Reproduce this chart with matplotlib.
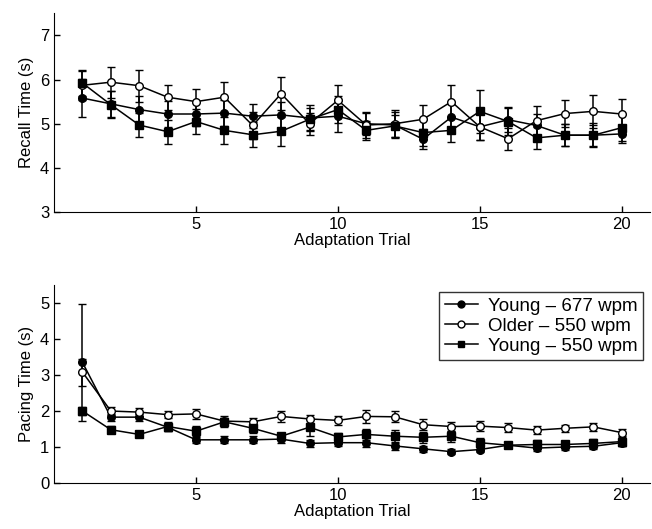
import numpy as np
import matplotlib.pyplot as plt
from matplotlib.lines import Line2D

plt.rcParams['font.family'] = ['Liberation Sans', 'DejaVu Sans']

trials = np.arange(1, 21)
labels = ['Young \u2013 677 wpm', 'Older \u2013 550 wpm', 'Young \u2013 550 wpm']

# recall time (s)
recall_y677 = [5.58, 5.45, 5.32, 5.22, 5.22, 5.24, 5.17, 5.20, 5.13, 5.17,
               5.00, 4.97, 4.65, 5.15, 4.93, 5.09, 4.96, 4.74, 4.74, 4.77]
recall_y677_err = [0.43, 0.30, 0.30, 0.30, 0.28, 0.30, 0.27, 0.30, 0.30, 0.35,
                   0.25, 0.30, 0.22, 0.30, 0.30, 0.28, 0.27, 0.25, 0.24, 0.20]
recall_old = [5.87, 5.94, 5.86, 5.60, 5.50, 5.60, 4.96, 5.68, 5.00, 5.53,
              4.97, 5.00, 5.10, 5.50, 4.93, 4.66, 5.07, 5.23, 5.28, 5.22]
recall_old_err = [0.33, 0.35, 0.36, 0.28, 0.29, 0.34, 0.30, 0.37, 0.25, 0.35,
                  0.30, 0.30, 0.33, 0.37, 0.30, 0.25, 0.32, 0.31, 0.38, 0.34]
recall_y550 = [5.92, 5.43, 4.97, 4.82, 5.05, 4.85, 4.75, 4.83, 5.10, 5.32,
               4.85, 4.95, 4.80, 4.85, 5.28, 5.05, 4.68, 4.74, 4.74, 4.91]
recall_y550_err = [0.30, 0.30, 0.28, 0.27, 0.28, 0.31, 0.28, 0.33, 0.25, 0.30,
                   0.22, 0.25, 0.30, 0.27, 0.49, 0.30, 0.25, 0.25, 0.27, 0.30]

# pacing time (s)
pacing_y677 = [3.35, 1.83, 1.83, 1.55, 1.20, 1.20, 1.20, 1.22, 1.10, 1.12,
               1.12, 1.03, 0.95, 0.87, 0.93, 1.05, 0.97, 1.00, 1.02, 1.12]
pacing_y677_err = [1.62, 0.10, 0.10, 0.10, 0.10, 0.10, 0.10, 0.10, 0.10, 0.10,
                   0.12, 0.10, 0.08, 0.07, 0.08, 0.08, 0.08, 0.08, 0.08, 0.08]
pacing_old = [3.08, 2.00, 1.97, 1.90, 1.92, 1.72, 1.70, 1.85, 1.78, 1.74,
              1.85, 1.84, 1.62, 1.57, 1.58, 1.54, 1.47, 1.52, 1.56, 1.40]
pacing_old_err = [0.38, 0.10, 0.12, 0.10, 0.13, 0.10, 0.10, 0.15, 0.12, 0.12,
                  0.18, 0.15, 0.15, 0.13, 0.13, 0.12, 0.12, 0.10, 0.12, 0.10]
pacing_y550 = [2.00, 1.48, 1.35, 1.57, 1.44, 1.70, 1.52, 1.30, 1.55, 1.28,
               1.35, 1.30, 1.27, 1.30, 1.12, 1.05, 1.07, 1.07, 1.10, 1.15]
pacing_y550_err = [0.12, 0.10, 0.08, 0.12, 0.15, 0.15, 0.12, 0.10, 0.25, 0.12,
                   0.15, 0.18, 0.15, 0.15, 0.12, 0.08, 0.12, 0.10, 0.12, 0.12]

fig = plt.figure(figsize=(6.52, 5.29), dpi=100)
ax1 = fig.add_axes([0.083, 0.599, 0.914, 0.376])
ax2 = fig.add_axes([0.083, 0.087, 0.914, 0.374])

styles = [dict(marker='o', mfc='black'),
          dict(marker='o', mfc='white'),
          dict(marker='s', mfc='black')]


def draw(ax, series, errs):
    for vals, err, st in zip(series, errs, styles):
        ax.errorbar(trials, vals, yerr=err, color='black', lw=1.1,
                    elinewidth=1.1, capsize=3, capthick=1.1, ms=5.5,
                    mec='black', mew=1.0, **st)
    ax.set_xlim(0, 21)
    ax.set_xticks([5, 10, 15, 20])
    ax.spines['top'].set_visible(False)
    ax.spines['right'].set_visible(False)
    ax.tick_params(direction='in', length=4, labelsize=12, width=1)
    ax.set_xlabel('Adaptation Trial', fontsize=12, labelpad=1)


draw(ax1, [recall_y677, recall_old, recall_y550],
     [recall_y677_err, recall_old_err, recall_y550_err])
ax1.set_ylim(3, 7.5)
ax1.set_yticks([3, 4, 5, 6, 7])
ax1.set_ylabel('Recall Time (s)', fontsize=12)

draw(ax2, [pacing_y677, pacing_old, pacing_y550],
     [pacing_y677_err, pacing_old_err, pacing_y550_err])
ax2.set_ylim(0, 5.5)
ax2.set_yticks([0, 1, 2, 3, 4, 5])
ax2.set_ylabel('Pacing Time (s)', fontsize=12)

handles = [Line2D([], [], color='black', lw=1.1, ms=5, mec='black', **st)
           for st in styles]
leg = ax2.legend(handles, labels, loc='upper right',
                 bbox_to_anchor=(0.988, 0.965), fontsize=13.5,
                 frameon=True, fancybox=False, handlelength=1.8,
                 borderpad=0.3, labelspacing=0.15, handletextpad=0.5,
                 borderaxespad=0)
leg.get_frame().set_edgecolor('black')
leg.get_frame().set_linewidth(1.0)

fig.savefig('out.png', dpi=100)
